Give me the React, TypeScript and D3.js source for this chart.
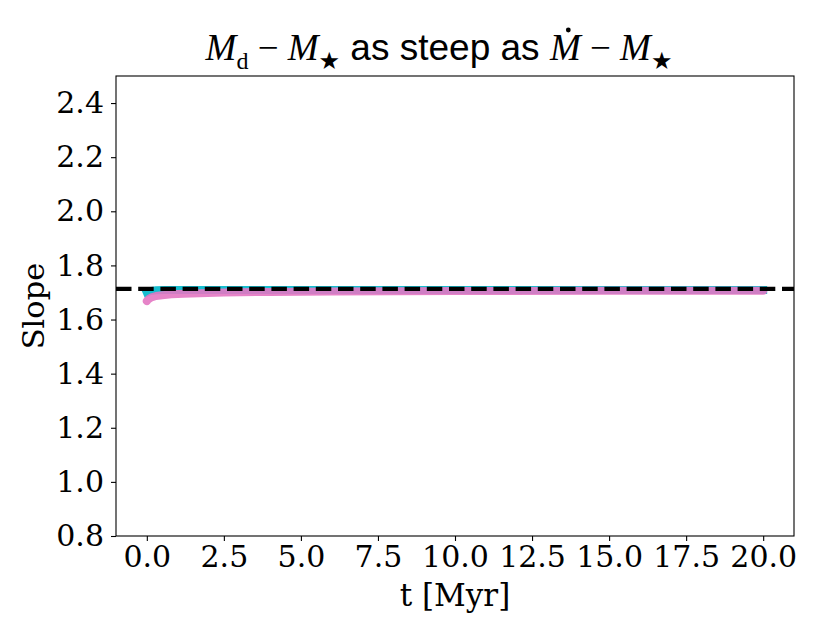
import React, { useEffect, useRef } from "react";
import * as d3 from "d3";

// time grid [Myr] and slope values
const cyanT = [0, 0.1, 0.3, 0.6, 1, 2, 5, 10, 15, 20];
const cyanSlope = [1.7, 1.705, 1.708, 1.709, 1.709, 1.709, 1.709, 1.709, 1.709, 1.709];

const pinkT = [0, 0.05, 0.15, 0.3, 0.5, 0.8, 1.2, 1.7, 2.5, 4, 6, 10, 15, 20];
const pinkSlope = [1.668, 1.675, 1.682, 1.687, 1.69, 1.693, 1.695, 1.697, 1.7, 1.702, 1.704, 1.705, 1.706, 1.706];

const referenceSlope = 1.713;

const xTicks = [0, 2.5, 5, 7.5, 10, 12.5, 15, 17.5, 20];
const yTicks = [0.8, 1.0, 1.2, 1.4, 1.6, 1.8, 2.0, 2.2, 2.4];

const W = 831;
const H = 639;
const margin = { top: 76, right: 37, bottom: 103, left: 116 };

const serif = "'DejaVu Serif', serif";

export default function App() {
  const svgRef = useRef<SVGSVGElement>(null);

  useEffect(() => {
    document.body.style.margin = "0";
    if (!svgRef.current) return;
    const svg = d3.select(svgRef.current);
    svg.selectAll("*").remove();

    const x = d3.scaleLinear().domain([-1, 21]).range([margin.left, W - margin.right]);
    const y = d3.scaleLinear().domain([0.8, 2.5]).range([H - margin.bottom, margin.top]);

    const defs = svg.append("defs");
    defs
      .append("clipPath")
      .attr("id", "plot-clip")
      .append("rect")
      .attr("x", margin.left)
      .attr("y", margin.top)
      .attr("width", W - margin.left - margin.right)
      .attr("height", H - margin.top - margin.bottom);

    const plot = svg.append("g").attr("clip-path", "url(#plot-clip)");

    const line = d3
      .line<[number, number]>()
      .x((d) => x(d[0]))
      .y((d) => y(d[1]));

    plot
      .append("path")
      .datum(cyanT.map((t, i) => [t, cyanSlope[i]] as [number, number]))
      .attr("d", line)
      .attr("fill", "none")
      .attr("stroke", "#17becf")
      .attr("stroke-width", 8)
      .attr("stroke-linecap", "square")
      .attr("stroke-linejoin", "round");

    plot
      .append("path")
      .datum(pinkT.map((t, i) => [t, pinkSlope[i]] as [number, number]))
      .attr("d", line)
      .attr("fill", "none")
      .attr("stroke", "#e377c2")
      .attr("stroke-opacity", 0.9)
      .attr("stroke-width", 8)
      .attr("stroke-linecap", "round")
      .attr("stroke-linejoin", "round");

    plot
      .append("line")
      .attr("x1", margin.left)
      .attr("x2", W - margin.right)
      .attr("y1", y(referenceSlope))
      .attr("y2", y(referenceSlope))
      .attr("stroke", "#000")
      .attr("stroke-width", 4.2)
      .attr("stroke-dasharray", "15.5,6.7");

    // axes
    const xAxis = svg
      .append("g")
      .attr("transform", `translate(0,${H - margin.bottom})`)
      .call(
        d3
          .axisBottom(x)
          .tickValues(xTicks)
          .tickFormat((d) => d3.format(".1f")(d as number))
          .tickSize(5)
          .tickPadding(5)
      );
    xAxis.select(".domain").remove();
    xAxis.selectAll("text").attr("font-family", serif).attr("font-size", 30).attr("fill", "#000");
    xAxis.selectAll("line").attr("stroke", "#000").attr("stroke-width", 1.1);

    const yAxis = svg
      .append("g")
      .attr("transform", `translate(${margin.left},0)`)
      .call(
        d3
          .axisLeft(y)
          .tickValues(yTicks)
          .tickFormat((d) => d3.format(".1f")(d as number))
          .tickSize(5)
          .tickPadding(7)
      );
    yAxis.select(".domain").remove();
    yAxis.selectAll("text").attr("font-family", serif).attr("font-size", 30).attr("fill", "#000");
    yAxis.selectAll("line").attr("stroke", "#000").attr("stroke-width", 1.1);

    svg
      .append("rect")
      .attr("x", margin.left)
      .attr("y", margin.top)
      .attr("width", W - margin.left - margin.right)
      .attr("height", H - margin.top - margin.bottom)
      .attr("fill", "none")
      .attr("stroke", "#000")
      .attr("stroke-width", 1.1);

    // labels
    svg
      .append("text")
      .attr("x", (margin.left + W - margin.right) / 2)
      .attr("y", 606)
      .attr("text-anchor", "middle")
      .attr("font-family", serif)
      .attr("font-size", 31)
      .text("t [Myr]");

    svg
      .append("text")
      .attr("transform", `translate(44,${(margin.top + H - margin.bottom) / 2}) rotate(-90)`)
      .attr("text-anchor", "middle")
      .attr("font-family", serif)
      .attr("font-size", 30.5)
      .text("Slope");

    // title with math parts
    const title = svg
      .append("text")
      .attr("x", 439)
      .attr("y", 60)
      .attr("text-anchor", "middle")
      .attr("font-size", 37);

    const mathIt = "'Liberation Serif', serif";
    const parts: { t: string; font: string; italic?: boolean; sub?: boolean }[] = [
      { t: "M", font: mathIt, italic: true },
      { t: "d", font: mathIt, sub: true },
      { t: " \u2212 ", font: mathIt },
      { t: "M", font: mathIt, italic: true },
      { t: "\u2605", font: "'DejaVu Sans', sans-serif", sub: true },
      { t: " as steep as ", font: "'Liberation Sans', sans-serif" },
      { t: "M", font: mathIt, italic: true },
      { t: " \u2212 ", font: mathIt },
      { t: "M", font: mathIt, italic: true },
      { t: "\u2605", font: "'DejaVu Sans', sans-serif", sub: true },
    ];
    parts.forEach((p, i) => {
      const ts = title
        .append("tspan")
        .attr("font-family", p.font)
        .attr("font-style", p.italic ? "italic" : "normal")
        .style("white-space", "pre")
        .text(p.t);
      if (p.sub) ts.attr("font-size", 24).attr("dy", 9);
      else if (i > 0 && parts[i - 1].sub) ts.attr("dy", -9);
    });

    // dot over the M after "as steep as" (M-dot)
    const node = title.node() as SVGTextElement;
    const full = parts.map((p) => p.t).join("");
    const idx = full.indexOf("M", full.indexOf("as steep as"));
    try {
      const box = node.getExtentOfChar(idx);
      svg
        .append("circle")
        .attr("cx", box.x + box.width / 2 + 3)
        .attr("cy", box.y + 3)
        .attr("r", 2.4)
        .attr("fill", "#000");
    } catch (e) {
      // ignore
    }
  }, []);

  return <svg ref={svgRef} width={W} height={H} style={{ display: "block", background: "#fff" }} />;
}
